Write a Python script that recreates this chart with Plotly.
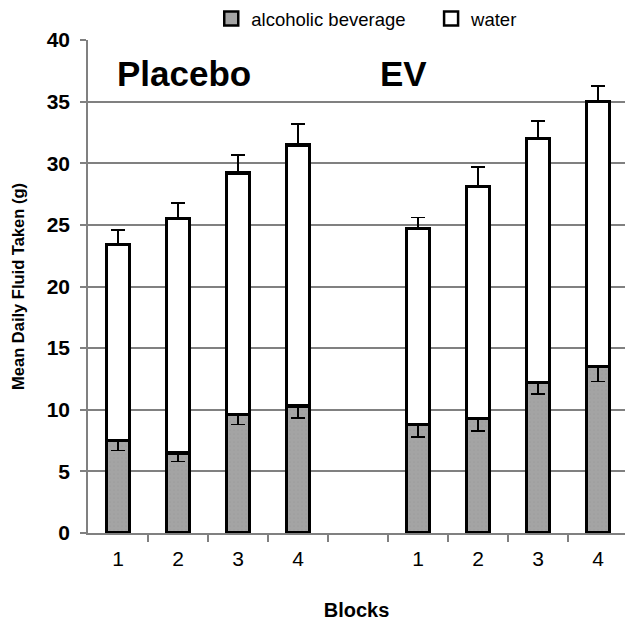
import plotly.graph_objects as go

# ---- data ----
tick_labels = ["1", "2", "3", "4", "", "1", "2", "3", "4"]
placebo_alcohol = [7.5, 6.5, 9.6, 10.3]
placebo_alcohol_err = [0.8, 0.7, 0.8, 1.0]
placebo_total = [23.4, 25.5, 29.2, 31.5]
placebo_total_err = [1.2, 1.3, 1.5, 1.7]
ev_alcohol = [8.8, 9.3, 12.2, 13.5]
ev_alcohol_err = [1.0, 1.0, 0.9, 1.2]
ev_total = [24.7, 28.1, 32.0, 35.0]
ev_total_err = [0.9, 1.6, 1.4, 1.3]

x_pos = list(range(len(tick_labels)))
alcohol = placebo_alcohol + [None] + ev_alcohol
alcohol_err = placebo_alcohol_err + [0] + ev_alcohol_err
total = placebo_total + [None] + ev_total
water = [None if t is None else round(t - a, 3) for t, a in zip(total, alcohol)]
water_err = placebo_total_err + [0] + ev_total_err

FONT = "Liberation Sans, Arial, sans-serif"
GRAY = "#a4a4a4"

fig = go.Figure()
fig.add_trace(go.Bar(
    x=x_pos, y=alcohol, width=0.38, showlegend=False, name="alcoholic beverage",
    marker=dict(color=GRAY, line=dict(color="black", width=3.5),
                pattern=dict(shape=".", fgcolor="#939393", size=4, solidity=0.15)),
    error_y=dict(type="data", symmetric=False, array=[0] * len(x_pos),
                 arrayminus=alcohol_err, color="black", thickness=1.8, width=7),
))
fig.add_trace(go.Bar(
    x=x_pos, y=water, width=0.38, showlegend=False, name="water",
    marker=dict(color="white", line=dict(color="black", width=3.5)),
    error_y=dict(type="data", symmetric=False, array=water_err,
                 arrayminus=[0] * len(x_pos), color="black", thickness=1.8, width=7),
))
# legend-only entries with square swatches
fig.add_trace(go.Scatter(x=[None], y=[None], mode="markers", name="alcoholic beverage    ",
                         marker=dict(symbol="square", size=14, color=GRAY,
                                     line=dict(color="black", width=2.5))))
fig.add_trace(go.Scatter(x=[None], y=[None], mode="markers", name="water",
                         marker=dict(symbol="square", size=14, color="white",
                                     line=dict(color="black", width=2.5))))

fig.update_layout(
    width=625, height=625,
    margin=dict(l=88, r=0, t=40, b=92),
    barmode="stack",
    plot_bgcolor="white", paper_bgcolor="white",
    font=dict(family=FONT, color="black"),
    legend=dict(orientation="h", x=0.52, xanchor="center", y=1.082, yanchor="top",
                traceorder="normal",
                font=dict(size=18.5, family=FONT), itemwidth=30,
                bgcolor="rgba(0,0,0,0)"),
    xaxis=dict(
        range=[-0.5, 8.45], tickmode="array", tickvals=x_pos, ticktext=tick_labels,
        ticks="", tickfont=dict(size=21, family=FONT), showgrid=False,
        showline=True, linecolor="#808080", linewidth=1.5, zeroline=False,
        ticklabelstandoff=6,
        minor=dict(tickvals=[i + 0.5 for i in x_pos], ticks="outside", ticklen=7,
                   tickcolor="#808080", tickwidth=1.5, showgrid=False),
        title=dict(text="<b>Blocks</b>", font=dict(size=20, family=FONT), standoff=34),
    ),
    yaxis=dict(
        range=[0, 40], dtick=5, tickformat="d",
        ticks="outside", ticklen=6, tickcolor="#808080", tickwidth=1.5,
        ticklabelstandoff=6,
        tickfont=dict(size=21, family=FONT, weight="bold"),
        showgrid=True, gridcolor="#808080", gridwidth=1.5,
        showline=True, linecolor="#808080", linewidth=1.5, zeroline=False,
        title=dict(text="<b>Mean Daily Fluid Taken (g)</b>", font=dict(size=16.5, family=FONT),
                   standoff=18),
    ),
    annotations=[
        dict(text="<b>Placebo</b>", x=1.1, y=37.3, xref="x", yref="y",
             showarrow=False, font=dict(size=35, family=FONT)),
        dict(text="<b>EV</b>", x=4.75, y=37.3, xref="x", yref="y",
             showarrow=False, font=dict(size=35, family=FONT)),
    ],
)

fig.write_html("out.html")
